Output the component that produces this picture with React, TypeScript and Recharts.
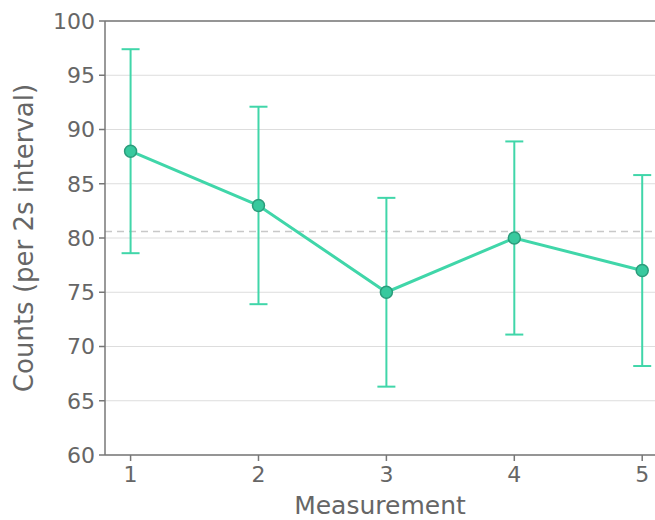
import { ComposedChart, Line, XAxis, YAxis, CartesianGrid, ErrorBar, ReferenceLine } from 'recharts'

const measurements = [1, 2, 3, 4, 5]
const counts = [88, 83, 75, 80, 77]
const countErrors = [9.4, 9.1, 8.7, 8.9, 8.8]
const meanCount = 80.6
const yTicks = [60, 65, 70, 75, 80, 85, 90, 95, 100]

const data = measurements.map((m, i) => ({ m, count: counts[i], err: countErrors[i] }))

const textColor = '#666666'
const axisColor = '#777777'
const lineColor = '#40D6A9'

export default function App() {
  return (
    <div style={{ position: 'absolute', left: 0, top: 0, fontFamily: 'DejaVu Sans' }}>
      <ComposedChart width={655} height={520} data={data} margin={{ top: 21, right: 0, bottom: 0, left: 0 }}>
        <CartesianGrid horizontal vertical={false} stroke="#dddddd" strokeWidth={1.2} />
        <XAxis
          dataKey="m"
          type="number"
          domain={[0.8, 5.1]}
          ticks={measurements}
          allowDataOverflow
          height={65}
          stroke={axisColor}
          strokeWidth={1.5}
          tickSize={6}
          tick={{ fill: textColor, fontSize: 22 }}
          tickMargin={5}
          label={{ value: 'Measurement', position: 'insideBottom', offset: 6, fill: textColor, fontSize: 25 }}
        />
        <YAxis
          domain={[60, 100]}
          ticks={yTicks}
          width={105}
          stroke={axisColor}
          strokeWidth={1.5}
          tickSize={6}
          tick={{ fill: textColor, fontSize: 22 }}
          tickMargin={4}
          label={{ value: 'Counts (per 2s interval)', angle: -90, position: 'insideLeft', offset: 24, fill: textColor, fontSize: 26, style: { textAnchor: 'middle' } }}
        />
        <ReferenceLine y={meanCount} stroke="#c8c8c8" strokeWidth={1.5} strokeDasharray="7 5" />
        <ReferenceLine y={100} stroke={axisColor} strokeWidth={1.5} />
        <Line
          dataKey="count"
          stroke={lineColor}
          strokeWidth={3}
          dot={{ r: 6, fill: '#38C99E', stroke: '#2B9C7B', strokeWidth: 1.5 }}
          isAnimationActive={false}
        >
          <ErrorBar dataKey="err" direction="y" width={9} stroke={lineColor} strokeWidth={2} />
        </Line>
      </ComposedChart>
    </div>
  )
}
